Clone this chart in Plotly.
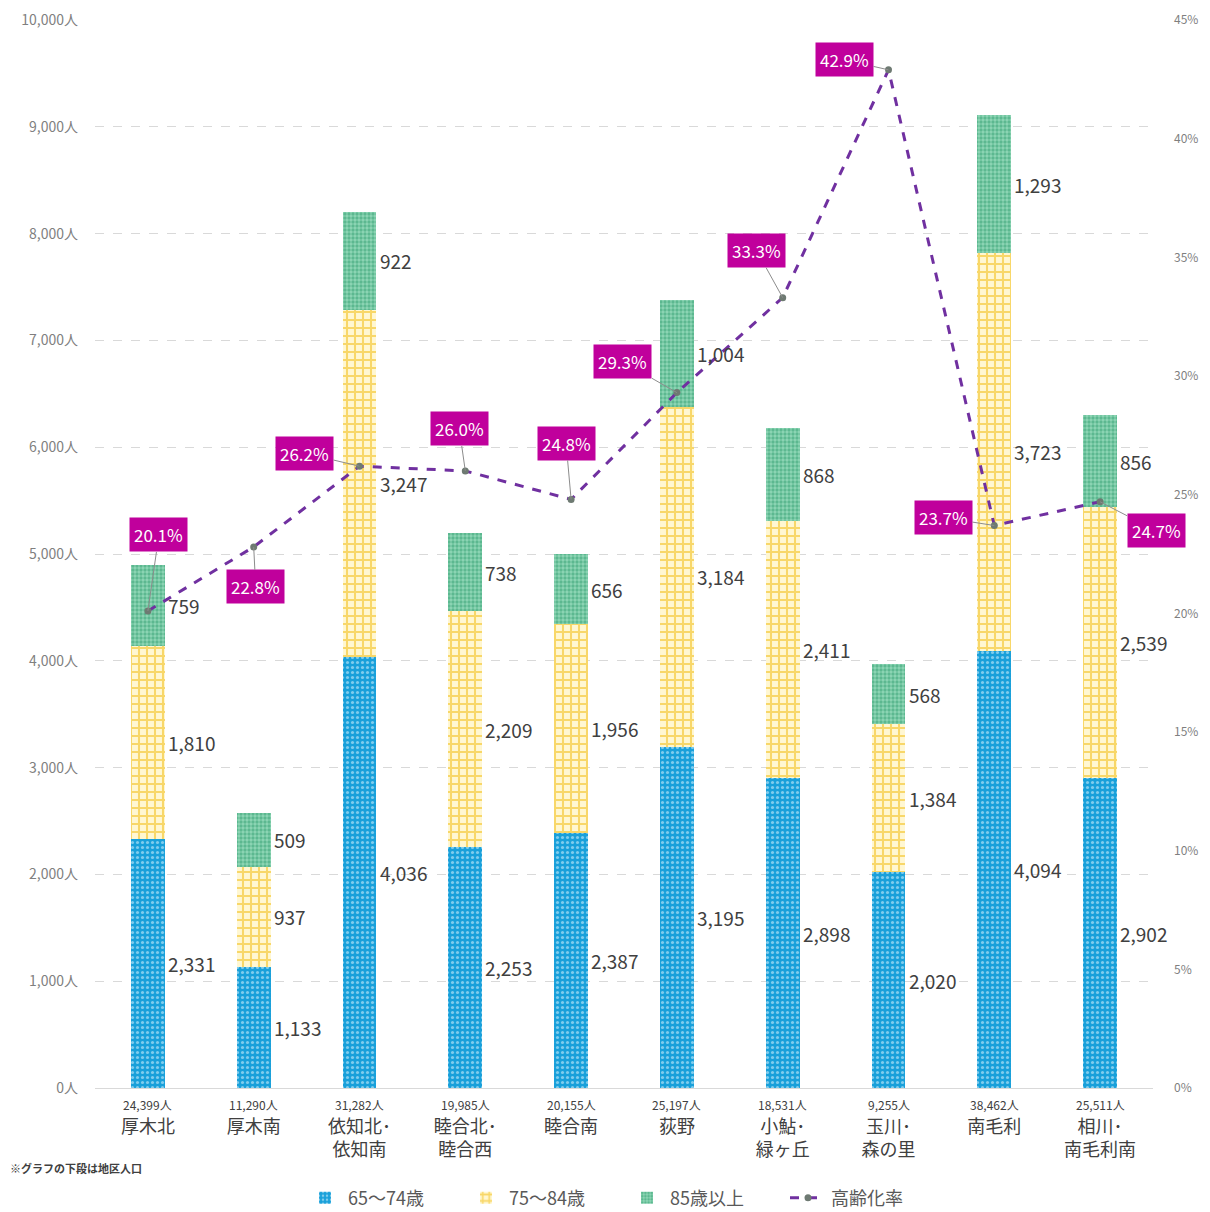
import plotly.graph_objects as go

# District names and population (shown under each bar)
districts = ["厚木北", "厚木南", "依知北･<br>依知南", "睦合北･<br>睦合西", "睦合南",
             "荻野", "小鮎･<br>緑ヶ丘", "玉川･<br>森の里", "南毛利", "相川･<br>南毛利南"]
population = ["24,399人", "11,290人", "31,282人", "19,985人", "20,155人",
              "25,197人", "18,531人", "9,255人", "38,462人", "25,511人"]

# Elderly counts by age group
age_65_74 = [2331, 1133, 4036, 2253, 2387, 3195, 2898, 2020, 4094, 2902]
age_75_84 = [1810, 937, 3247, 2209, 1956, 3184, 2411, 1384, 3723, 2539]
age_85_up = [759, 509, 922, 738, 656, 1004, 868, 568, 1293, 856]

# Ageing rate (%)
aging_rate = [20.1, 22.8, 26.2, 26.0, 24.8, 29.3, 33.3, 42.9, 23.7, 24.7]

# Offsets of the rate labels from their points (px)
rate_label_offsets = [(11, -76), (2, 40), (-55, -13), (-6, -42), (-5, -56),
                      (-54, -31), (-26, -47), (-44, -10), (-51, -8), (56, 29)]

FONT = "Noto Sans CJK JP, Noto Sans, sans-serif"
x = list(range(len(districts)))

fig = go.Figure()

bar_w = 0.32
fig.add_trace(go.Bar(
    x=x, y=age_65_74, name="65～74歳", width=bar_w,
    marker=dict(color="#1FA3DC", line=dict(width=0),
                pattern=dict(shape=".", fgcolor="#E8F7FF", bgcolor="#19A0DA", size=5, solidity=0.3)),
))
fig.add_trace(go.Bar(
    x=x, y=age_75_84, name="75～84歳", width=bar_w,
    marker=dict(color="#F2B700", line=dict(width=0),
                pattern=dict(shape="+", fgcolor="#F2B800", bgcolor="#FFF7D2", size=8, solidity=0.45)),
))
fig.add_trace(go.Bar(
    x=x, y=age_85_up, name="85歳以上", width=bar_w,
    marker=dict(color="#4DB388", line=dict(width=0),
                pattern=dict(shape=".", fgcolor="#2A9A6A", bgcolor="#8FD6B6", size=4, solidity=0.55)),
))
fig.add_trace(go.Scatter(
    x=x, y=[r / 100 for r in aging_rate], name="高齢化率", yaxis="y2",
    mode="lines+markers",
    line=dict(color="#7030A0", width=3, dash="dash"),
    marker=dict(color="#6E7A72", size=7),
))

annotations = []
# Segment value labels, right of each bar
for i in x:
    base = 0
    for seg in (age_65_74, age_75_84, age_85_up):
        v = seg[i]
        annotations.append(dict(
            x=i, y=base + v / 2, xref="x", yref="y", text=f"{v:,}",
            showarrow=False, xanchor="left", yanchor="middle", xshift=18,
            font=dict(size=19, color="#404040", family=FONT),
        ))
        base += v

# Rate labels in magenta boxes with leader lines
for i, (r, (ax, ay)) in enumerate(zip(aging_rate, rate_label_offsets)):
    annotations.append(dict(
        x=i, y=r / 100, xref="x", yref="y2", text=f"{r:.1f}%",
        showarrow=True, arrowhead=0, arrowwidth=1, arrowcolor="#8C8C8C",
        ax=ax, ay=ay, standoff=0,
        bgcolor="#C0009C", borderpad=4,
        font=dict(size=17, color="white", family=FONT),
    ))

# District population, just under the axis
for i, p in zip(x, population):
    annotations.append(dict(
        x=i, y=-0.015, xref="x", yref="paper", text=p,
        showarrow=False, xanchor="center", yanchor="middle",
        font=dict(size=12, color="#404040", family=FONT),
    ))

annotations.append(dict(
    x=-0.082, y=-0.075, xref="paper", yref="paper", text="<b>※グラフの下段は地区人口</b>",
    showarrow=False, xanchor="left", yanchor="middle",
    font=dict(size=11, color="#404040", family=FONT),
))

fig.update_layout(
    width=1210, height=1212,
    margin=dict(l=95, r=57, t=20, b=124, autoexpand=False),
    paper_bgcolor="white", plot_bgcolor="white",
    barmode="stack",
    bargap=0.68,
    font=dict(family=FONT, color="#595959"),
    xaxis=dict(
        tickmode="array", tickvals=x, ticktext=districts,
        tickfont=dict(size=18, color="#404040"),
        ticklabelstandoff=22,
        showline=True, linecolor="#D9D9D9", linewidth=1,
        range=[-0.5, len(x) - 0.5], ticks="", automargin=False,
    ),
    yaxis=dict(
        range=[0, 10000], dtick=1000, tickformat=",", ticksuffix="人",
        showgrid=True, gridcolor="#D9D9D9", griddash="dash", gridwidth=1,
        tickfont=dict(size=14, color="#7F7F7F"), zeroline=False,
        ticklabelstandoff=16, automargin=False,
    ),
    yaxis2=dict(
        range=[0, 0.45], dtick=0.05, tickformat=".0%", overlaying="y", side="right",
        showgrid=False, zeroline=False,
        tickfont=dict(size=12, color="#7F7F7F"),
        ticklabelstandoff=20, automargin=False,
    ),
    legend=dict(
        orientation="h", x=0.5, xanchor="center", y=-0.103, yanchor="middle",
        font=dict(size=18, color="#595959"), traceorder="normal",
        entrywidth=110, itemwidth=36,
    ),
    annotations=annotations,
)

fig.write_html("out.html")
